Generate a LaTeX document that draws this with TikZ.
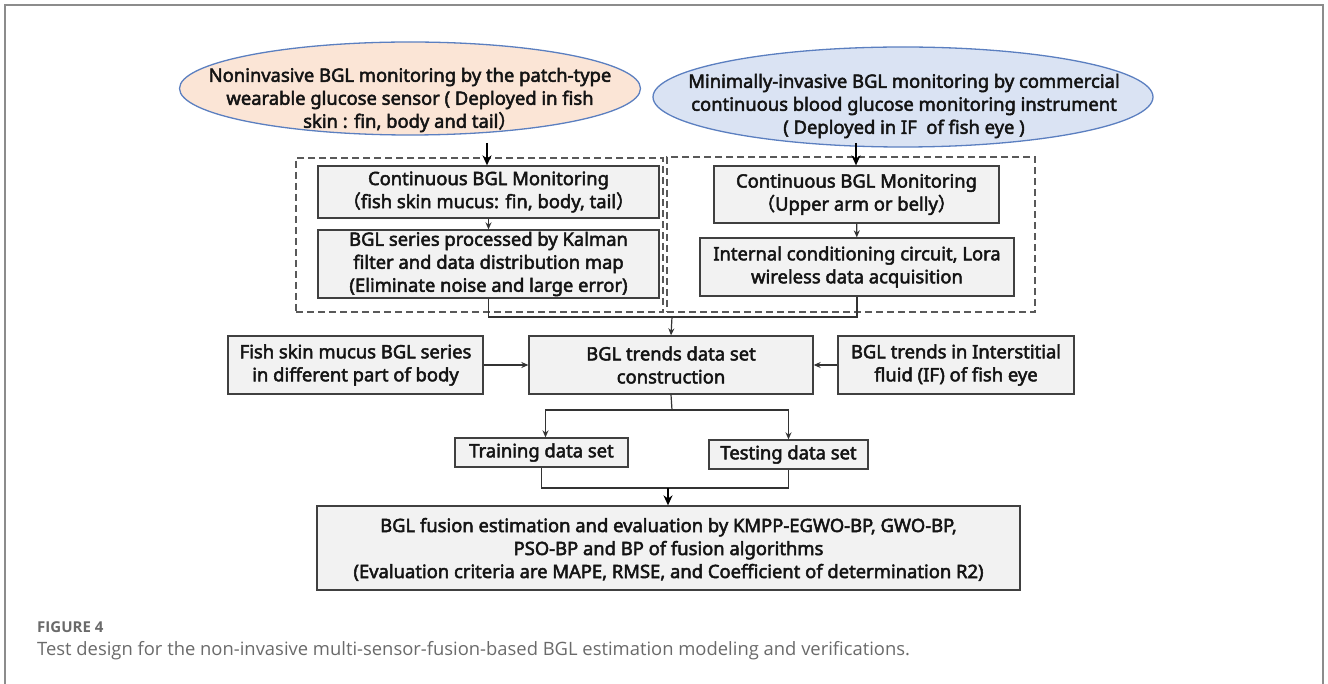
\documentclass[tikz,border=0pt]{standalone}
\usepackage{fontspec}
\setmainfont{Noto Sans}[FakeBold=2.6]
\newfontfamily\cjk{Noto Sans CJK SC}[FakeBold=2.6]
\newfontfamily\capfont{Open Sans}
\usetikzlibrary{arrows.meta,positioning,shapes.geometric,calc}
\definecolor{peach}{HTML}{FBE5D6}
\definecolor{paleblue}{HTML}{DAE3F3}
\definecolor{edgeblue}{HTML}{5B7FC0}
\definecolor{boxgray}{HTML}{F2F2F2}
\definecolor{txtgray}{HTML}{141414}
\definecolor{capgray}{HTML}{6A6A6A}
\newcommand{\lpar}{{\cjk （}}
\newcommand{\rpar}{{\cjk ）}}

\begin{document}
\begin{tikzpicture}[
  x=1pt, y=-1pt, text=txtgray,
  font=\fontsize{18.4}{23}\selectfont, >={Stealth[length=7pt,width=6pt]},
  bx/.style={draw=black!75,line width=1.3pt,fill=boxgray,align=center,inner sep=0pt},
  el/.style={ellipse,draw=edgeblue,line width=1.3pt,inner sep=0pt},
  grp/.style={draw=black!65,dash pattern=on 7pt off 4pt,line width=1.2pt,inner sep=0pt},
  ln/.style={draw=black!80,line width=1.2pt},
  bigarr/.style={draw=black,line width=2.2pt,-{Stealth[length=10pt,width=9pt]}}]
\useasboundingbox (0,0) rectangle (1328,684);
% frame round the figure
\draw[black!45,line width=1.5pt] (5,700) -- (5,5) -- (1323,5) -- (1323,700);
% sensor ellipses
\node[el,fill=peach,minimum width=461pt,minimum height=93pt] (ellL) at (410,88.5) {};
\node[align=center] (ellLtxt) at (410,100) {Noninvasive BGL monitoring by the patch-type\\wearable glucose sensor ( Deployed in fish\\skin : fin, body and tail\rpar};
\node[el,fill=paleblue,minimum width=500pt,minimum height=100pt] (ellR) at (903,97) {};
\node[align=center] (ellRtxt) at (904,106) {Minimally-invasive BGL monitoring by commercial\\continuous blood glucose monitoring instrument\\( Deployed in IF~ of fish eye )};
% dashed groups
\node[grp,minimum width=367pt,minimum height=154pt] (grpL) at (479.5,235) {};
\node[grp,minimum width=368pt,minimum height=155pt] (grpR) at (851,234.5) {};
% left column
\node[bx,minimum width=341pt,minimum height=52pt] (lm1) at (488.5,192) {Continuous BGL Monitoring\\\lpar fish skin mucus: fin, body, tail\rpar};
\node[bx,minimum width=341pt,minimum height=68pt] (lm2) at (488.5,264) {BGL series processed by Kalman\\filter and data distribution map\\(Eliminate noise and large error)};
% right column
\node[bx,minimum width=285pt,minimum height=57pt] (rm1) at (856.5,194.5) {Continuous BGL Monitoring\\\lpar Upper arm or belly\rpar};
\node[bx,minimum width=314pt,minimum height=58pt] (rm2) at (857,267) {Internal conditioning circuit, Lora\\wireless data acquisition};
% data set row
\node[bx,minimum width=255pt,minimum height=58pt] (fish) at (355.5,365) {Fish skin mucus BGL series\\in different part of body};
\node[bx,minimum width=284pt,minimum height=58pt] (trend) at (671,365) {BGL trends data set\\construction};
\node[bx,minimum width=236pt,minimum height=58pt] (eye) at (956,365) {BGL trends in Interstitial\\fluid (IF) of fish eye};
\node[bx,minimum width=173pt,minimum height=29pt] (train) at (541.5,452.5) {Training data set};
\node[bx,minimum width=159pt,minimum height=29pt] (test) at (788.5,454.5) {Testing data set};
\node[bx,minimum width=703pt,minimum height=84pt,text depth=0pt] (fuse) at (668.5,548) {BGL fusion estimation and evaluation by KMPP-EGWO-BP, GWO-BP,\\PSO-BP and BP of fusion algorithms\\(Evaluation criteria are MAPE, RMSE, and Coefficient of determination R2)};
% junction points
\coordinate (inL) at (487,143);
\coordinate (inR) at (856,143);
\coordinate (jn1) at (672,317);
\coordinate (split) at (672,410);
\coordinate (jn2) at (668,488);
% connectors
\draw[bigarr] (inL) -- (inL |- lm1.north);
\draw[bigarr] (inR) -- (inR |- rm1.north);
\foreach \x/\y in {lm1/lm2,rm1/rm2,fish/trend,eye/trend} \draw[ln,->] (\x) -- (\y);
\draw[ln] (lm2.south) |- (jn1) -| (rm2.south);
\draw[ln,->] (jn1) -- (trend.north);
\draw[ln] (trend.south) -- (split);
\draw[ln,->] (split) -| ([xshift=4pt]train.north);
\draw[ln,->] (split) -| (test.north);
\draw[ln] (train.south) |- (jn2) -| (test.south);
\draw[bigarr] (jn2) -- (jn2 |- fuse.north);
% caption
\node[anchor=base west,inner sep=0pt,font=\capfont\fontsize{15}{18}\selectfont\bfseries,text=capgray] (figno) at (37,632) {FIGURE 4};
\node[anchor=base west,inner sep=0pt,font=\capfont\fontsize{18.4}{21}\selectfont,text=capgray] (figcap) at (37,655) {Test design for the non-invasive multi-sensor-fusion-based BGL estimation modeling and verifications.};
\end{tikzpicture}
\end{document}
